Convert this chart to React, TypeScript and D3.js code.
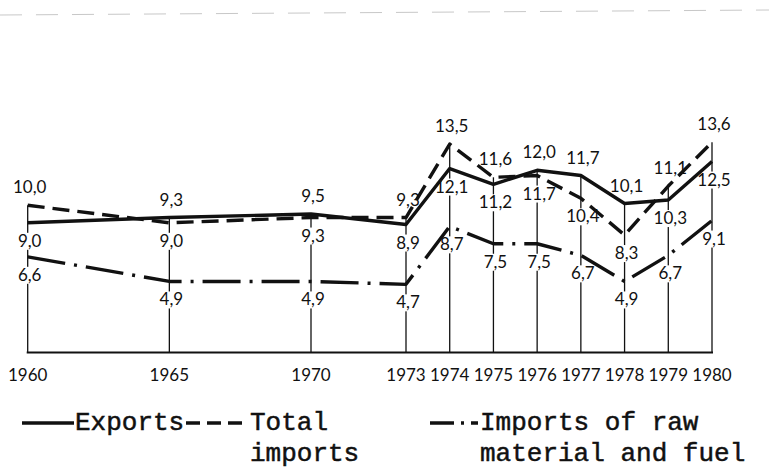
import React from "react";
import * as d3 from "d3";

const years = [1960, 1965, 1970, 1973, 1974, 1975, 1976, 1977, 1978, 1979, 1980];
const exportsVals = [9.0, 9.3, 9.5, 8.9, 12.1, 11.2, 12.0, 11.7, 10.1, 10.3, 12.5];
const totalImports = [10.0, 9.0, 9.3, 9.3, 13.5, 11.6, 11.7, 10.4, 8.3, 11.1, 13.6];
const rawImports = [6.6, 4.9, 4.9, 4.7, 8.7, 7.5, 7.5, 6.7, 4.9, 6.7, 9.1];

const legendExports = "Exports";
const legendTotal = ["Total", "imports"];
const legendRaw = ["Imports of raw", "material and fuel"];

const W = 769;
const H = 475;

// the original drawing has an uneven time axis
const x = d3.scaleLinear().domain([1960, 1970, 1973, 1980]).range([27.7, 311, 406, 712]);
const yMain = d3.scaleLinear().domain([8, 14]).range([240.3, 135.3]);
const yRaw = d3.scaleLinear().domain([0, 10]).range([352.5, 207.5]);

const fmt = (v: number) => v.toFixed(1).replace(".", ",");

const labelFont = "Lato, 'Open Sans', sans-serif";
const legendFont = "'Liberation Mono', 'DejaVu Sans Mono', monospace";

export default function App() {
  const lineMain = d3
    .line<number>()
    .x((_, i) => x(years[i]))
    .y((d) => yMain(d));
  const lineRaw = d3
    .line<number>()
    .x((_, i) => x(years[i]))
    .y((d) => yRaw(d));

  const base = yRaw(0);

  type Lab = { x: number; y: number; t: string };
  const labels: Lab[] = [];
  years.forEach((yr, i) => {
    const e = exportsVals[i];
    const t = totalImports[i];
    const r = rawImports[i];
    const cx = x(yr) + 2;
    const upper = e >= t ? e : t;
    const lower = e >= t ? t : e;
    labels.push({ x: cx, y: yMain(upper) - 12, t: fmt(upper) });
    labels.push({ x: cx, y: yMain(lower) + 24, t: fmt(lower) });
    labels.push({ x: cx, y: yRaw(r) + 24, t: fmt(r) });
  });

  const fs = 17;
  return (
    <svg
      width={W}
      height={H}
      style={{ position: "absolute", left: 0, top: 0, background: "#fff" }}
    >
      <rect x={0} y={0} width={W} height={H} fill="#fff" />
      {/* faint scan edge */}
      <line x1={0} y1={15} x2={W} y2={10} stroke="#c8c8c8" strokeWidth={1} strokeDasharray="22,14" />

      {/* vertical drop lines */}
      {years.map((yr, i) => (
        <line
          key={"v" + yr}
          x1={x(yr)}
          x2={x(yr)}
          y1={base}
          y2={Math.min(yMain(exportsVals[i]), yMain(totalImports[i]))}
          stroke="#111"
          strokeWidth={1.3}
        />
      ))}
      {/* gaps in drop lines behind labels */}
      {labels.map((l, i) => (
        <rect
          key={"r" + i}
          x={l.x - l.t.length * 4.4}
          y={l.y - 14}
          width={l.t.length * 8.8}
          height={17}
          fill="#fff"
        />
      ))}

      {/* baseline */}
      <line x1={x(1960) - 1} x2={x(1980) + 1} y1={base} y2={base} stroke="#111" strokeWidth={2.2} />

      {/* series */}
      <path d={lineMain(exportsVals) || ""} fill="none" stroke="#111" strokeWidth={3.4} strokeLinejoin="round" />
      <path
        d={lineMain(totalImports) || ""}
        fill="none"
        stroke="#111"
        strokeWidth={3.4}
        strokeDasharray="17,8"
        strokeLinejoin="round"
      />
      <path
        d={lineRaw(rawImports) || ""}
        fill="none"
        stroke="#111"
        strokeWidth={3.4}
        strokeDasharray="38,9,3,9"
        strokeLinejoin="round"
      />

      {/* value labels */}
      {labels.map((l, i) => (
        <text
          key={"t" + i}
          x={l.x}
          y={l.y}
          textAnchor="middle"
          fontFamily={labelFont}
          fontSize={fs}
          fill="#111"
        >
          {l.t}
        </text>
      ))}

      {/* year labels */}
      {years.map((yr) => (
        <text
          key={"y" + yr}
          x={x(yr)}
          y={381}
          textAnchor="middle"
          fontFamily={labelFont}
          fontSize={fs}
          fill="#111"
        >
          {yr}
        </text>
      ))}

      {/* legend */}
      <g fontFamily={legendFont} fontSize={26} fill="#111">
        <line x1={22} x2={74} y1={423} y2={423} stroke="#111" strokeWidth={3.4} />
        <text x={75} y={430} stroke="#111" strokeWidth={0.5}>{legendExports}</text>
        <line x1={186} x2={246} y1={423} y2={423} stroke="#111" strokeWidth={3.4} strokeDasharray="14,7" />
        <text x={250} y={430} stroke="#111" strokeWidth={0.5}>{legendTotal[0]}</text>
        <text x={250} y={461} stroke="#111" strokeWidth={0.5}>{legendTotal[1]}</text>
        <line x1={430} x2={478} y1={423} y2={423} stroke="#111" strokeWidth={3.4} strokeDasharray="24,7,3,7" />
        <text x={480} y={430} stroke="#111" strokeWidth={0.5}>{legendRaw[0]}</text>
        <text x={480} y={461} stroke="#111" strokeWidth={0.5}>{legendRaw[1]}</text>
      </g>
    </svg>
  );
}
